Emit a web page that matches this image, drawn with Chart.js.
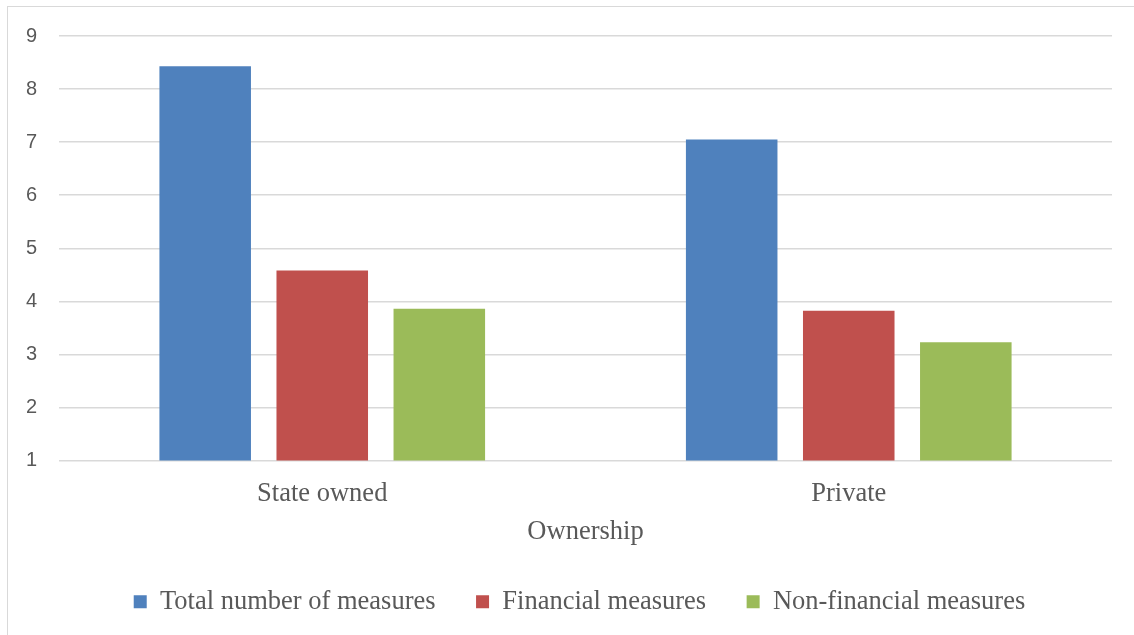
<!DOCTYPE html>
<html>
<head>
<meta charset="utf-8">
<script src="https://cdn.jsdelivr.net/npm/chart.js@4/dist/chart.umd.min.js"></script>
<style>
  html,body{margin:0;padding:0;background:#fff;}
  #wrap{position:absolute;left:0;top:0;width:1134px;height:635px;}
  #frame{position:absolute;left:7px;top:6px;width:1140px;height:640px;border:1px solid #d9d9d9;pointer-events:none;}
</style>
</head>
<body>
<div id="wrap"><canvas id="c"></canvas></div>
<div id="frame"></div>
<script>
// ownership groups and mean number of measures per group
var categories=['State owned','Private'];
var seriesNames=['Total number of measures','Financial measures','Non-financial measures'];
var totalMeasures=[8.43,7.05];
var financialMeasures=[4.58,3.82];
var nonFinancialMeasures=[3.86,3.23];
var yTicks=[1,2,3,4,5,6,7,8,9];

var COLS=['#4f81bd','#c0504d','#9bbb59'];
var SERIF='"Liberation Serif","Times New Roman",serif';

var vals=[totalMeasures,financialMeasures,nonFinancialMeasures];
var ds=seriesNames.map(function(n,i){
  return{label:n,data:vals[i],backgroundColor:COLS[i],borderWidth:0,
    categoryPercentage:0.667,barPercentage:0.782};
});

/* centre the legend roughly under the plot area instead of the whole canvas */
var legendShift={
  id:'legendShift',
  afterLayout:function(chart){
    var lg=chart.legend,ca=chart.chartArea;if(!lg)return;
    var d=(ca.left+ca.right)/2-6-(lg.left+lg.right)/2;
    lg.left+=d;lg.right+=d;
  }
};

new Chart(document.getElementById('c').getContext('2d'),{
  type:'bar',
  data:{labels:categories,datasets:ds},
  plugins:[legendShift],
  options:{
    responsive:true,maintainAspectRatio:false,animation:false,
    layout:{padding:{left:0,right:22,top:36,bottom:10}},
    plugins:{
      tooltip:{enabled:false},
      legend:{
        position:'bottom',
        labels:{font:{family:SERIF,size:26.5},color:'#595959',boxWidth:13,boxHeight:13,padding:40.5}
      }
    },
    scales:{
      x:{
        grid:{display:false},border:{display:false},
        ticks:{font:{family:SERIF,size:26.5,lineHeight:1},color:'#595959',padding:12},
        title:{display:true,text:'Ownership',font:{family:SERIF,size:26.5,lineHeight:1},color:'#595959',padding:{top:0,bottom:2.5}}
      },
      y:{
        min:yTicks[0],max:yTicks[yTicks.length-1],
        afterBuildTicks:function(ax){ax.ticks=yTicks.map(function(v){return{value:v};});},
        afterFit:function(ax){ax.width=59;},
        grid:{color:'#d9d9d9',lineWidth:1.5,drawTicks:false},border:{display:false},
        ticks:{font:{family:'"Liberation Sans",Arial,sans-serif',size:20},color:'#595959',padding:22}
      }
    }
  }
});
</script>
</body>
</html>
